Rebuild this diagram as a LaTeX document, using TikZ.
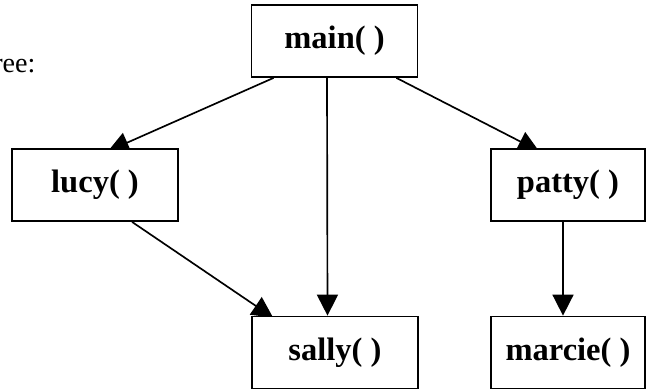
\documentclass[tikz,border=0pt]{standalone}
\usepackage{fontspec}
\setmainfont{Liberation Serif}
\usetikzlibrary{arrows.meta,backgrounds}

\begin{document}
\begin{tikzpicture}
		[auto,
		fn/.style ={rectangle, draw=black, line width=1pt, fill=white, minimum width=3.32cm, minimum height=1.44cm, font=\fontsize{18.5}{22}\selectfont\bfseries},
		fnr/.style = {fn, minimum width=3.08cm},
		call/.style ={draw, line width=0.95pt, -{Triangle[length=0.42cm,width=0.42cm]}},
		]
		\useasboundingbox (0,0) rectangle (12.96,-7.78);

		\draw (-0.14,-1.44) node[anchor=base west, inner sep=0pt, font=\fontsize{16}{19}\selectfont] (lbl) {ree:};

		\draw (6.69,-0.82) node[fn] (main) {main( )};
		\draw (1.90,-3.70) node[fn] (lucy) {lucy( )};
		\draw (11.36,-3.70) node[fnr] (patty) {patty( )};
		\draw (6.70,-7.05) node[fn] (sally) {sally( )};
		\draw (11.36,-7.05) node[fnr] (marcie) {marcie( )};

		% heads sit a little inside the boxes, the white fill covers the tips
		\begin{scope}[on background layer]
		\draw[call] ([xshift=0.46cm]main.south west) -- ([shift={(0.26cm,-0.06cm)}]lucy.north);
		\draw[call] ([xshift=-0.44cm]main.south east) -- ([shift={(-0.58cm,-0.06cm)}]patty.north);
		\draw[call] ([xshift=-0.15cm]main.south) -- ([xshift=-0.15cm]sally.north);
		\draw[call] ([xshift=0.74cm]lucy.south) -- ([shift={(0.44cm,-0.04cm)}]sally.north west);
		\draw[call] ([xshift=-0.10cm]patty.south) -- ([xshift=-0.10cm]marcie.north);
		\end{scope}

	\end{tikzpicture}
\end{document}
